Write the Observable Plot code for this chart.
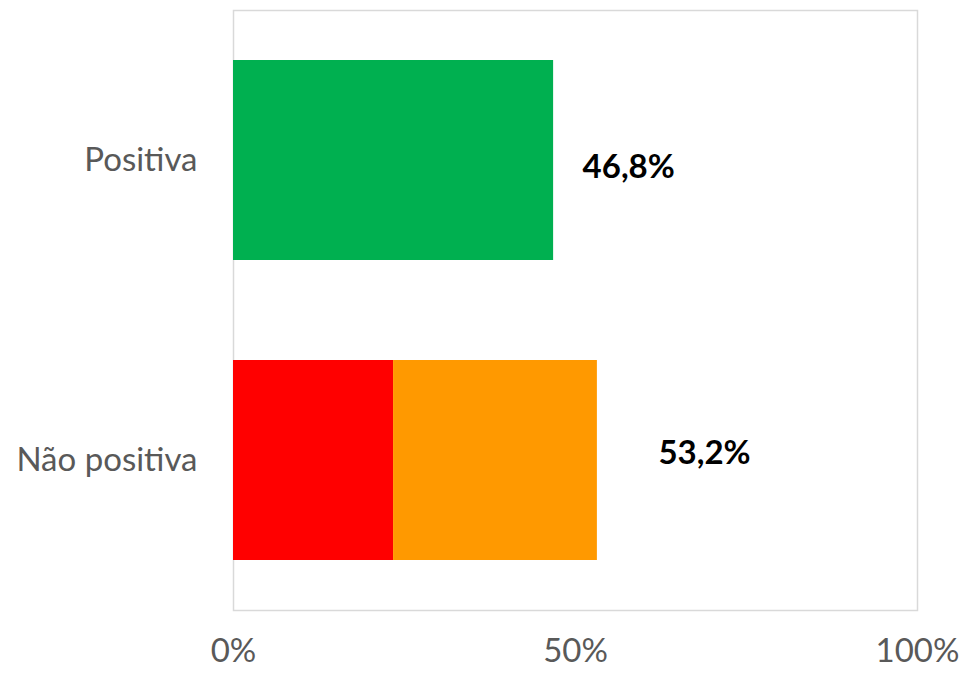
<!DOCTYPE html>
<html>
<head>
<meta charset="utf-8">
<script src="https://cdn.jsdelivr.net/npm/d3@7"></script>
<script src="https://cdn.jsdelivr.net/npm/@observablehq/plot@0.6"></script>
<style>
  html, body { margin: 0; padding: 0; background: #fff; }
  #chart svg { display: block; }
</style>
</head>
<body>
<div id="chart"></div>
<script>
const categories = ["Positiva", "Não positiva"];
const segments = ["Positiva", "Negativa", "Neutra"];
const segmentCategory = ["Positiva", "Não positiva", "Não positiva"];
const segmentValues = [46.8, 23.4, 29.8];
const totals = [46.8, 53.2];
const totalLabels = ["46,8%", "53,2%"];
const xTicks = [0, 50, 100];
const xTickLabels = ["0%", "50%", "100%"];

const bars = segments.map((s, i) => ({segment: s, category: segmentCategory[i], value: segmentValues[i]}));
const labels = categories.map((c, i) => ({category: c, total: totals[i], label: totalLabels[i]}));

const font = "Lato, 'Open Sans', sans-serif";

const chart = Plot.plot({
  width: 962,
  height: 673,
  marginLeft: 233,
  marginRight: 45,
  marginTop: 10,
  marginBottom: 63,
  style: {fontFamily: font, fontSize: "33px", color: "#595959", background: "#fff"},
  x: {domain: [0, 100], ticks: xTicks, tickFormat: (d) => xTickLabels[xTicks.indexOf(d)], tickSize: 0, tickPadding: 28, label: null},
  y: {domain: categories, paddingInner: 1/3, paddingOuter: 1/6, tickSize: 0, tickPadding: 36, label: null},
  color: {domain: segments, range: ["#00B050", "#FF0000", "#FF9900"]},
  marks: [
    Plot.frame({stroke: "#d9d9d9", strokeWidth: 1.5}),
    Plot.barX(bars, {x: "value", y: "category", fill: "segment", order: segments}),
    Plot.text(labels.filter(d => d.category === "Positiva"), {x: "total", y: "category", text: "label", textAnchor: "start", dx: 29, dy: 7, fontWeight: "bold", fontSize: 33, fill: "#000"}),
    Plot.text(labels.filter(d => d.category !== "Positiva"), {x: "total", y: "category", text: "label", textAnchor: "start", dx: 61, dy: -7, fontWeight: "bold", fontSize: 33, fill: "#000"})
  ]
});
document.getElementById("chart").appendChild(chart);
</script>
</body>
</html>
